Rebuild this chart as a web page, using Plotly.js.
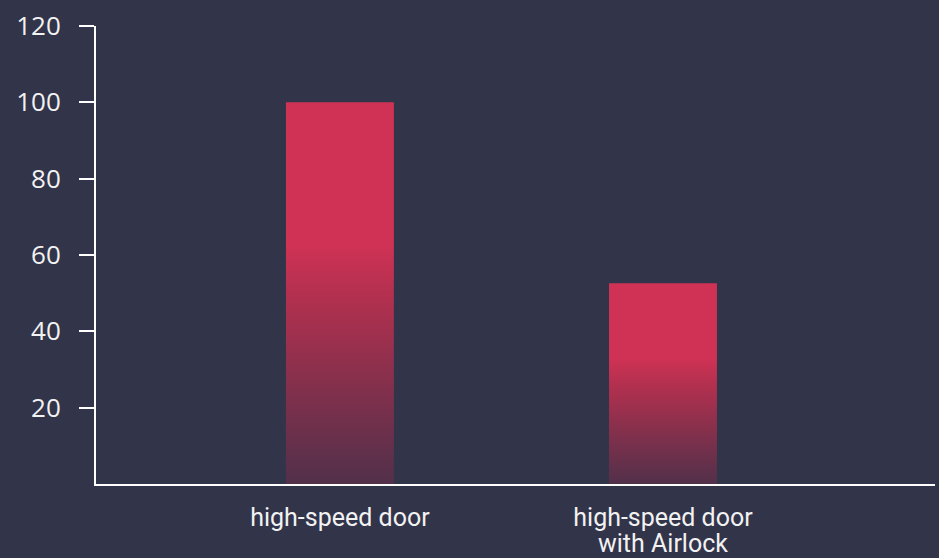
<!DOCTYPE html>
<html>
<head>
<meta charset="utf-8">
<script src="https://cdn.plot.ly/plotly-3.0.1.min.js"></script>
<style>
html,body{margin:0;padding:0;background:#32344a;}
#chart{width:939px;height:558px;}
</style>
</head>
<body>
<div id="chart"></div>
<script>
const categories = ["high-speed door", "high-speed door<br>with Airlock"];
const values = [100, 52.6];
const yTicks = [20, 40, 60, 80, 100, 120];

const trace = {
  type: "bar",
  x: categories,
  y: values,
  width: 0.334,
  marker: {color: "#d03255", line: {width: 0}},
  hoverinfo: "none"
};

const layout = {
  width: 939, height: 558,
  margin: {l: 96, r: 4, t: 26, b: 74},
  paper_bgcolor: "#32344a",
  plot_bgcolor: "#32344a",
  showlegend: false,
  font: {family: "Roboto, sans-serif", color: "#f2f2f2"},
  xaxis: {
    range: [-0.755, 1.842],
    showgrid: false, zeroline: false,
    showline: true, linecolor: "#ffffff", linewidth: 2,
    ticks: "", ticklabelstandoff: 10,
    tickfont: {size: 25, family: "Roboto, sans-serif", color: "#f2f2f2"}
  },
  yaxis: {
    range: [0, 120],
    tickvals: yTicks,
    ticktext: yTicks.map(String),
    showgrid: false, zeroline: false,
    showline: true, linecolor: "#ffffff", linewidth: 2,
    ticks: "outside", ticklen: 15, tickwidth: 2, tickcolor: "#ffffff",
    ticklabelstandoff: 13,
    tickfont: {size: 26, family: "Open Sans, sans-serif", color: "#f2f2f2"}
  }
};

Plotly.newPlot("chart", [trace], layout, {displayModeBar: false, staticPlot: true}).then(function(gd){
  const svg = gd.querySelector("svg.main-svg");
  const ns = "http://www.w3.org/2000/svg";
  let defs = svg.querySelector("defs");
  if (!defs) { defs = document.createElementNS(ns, "defs"); svg.insertBefore(defs, svg.firstChild); }
  const lg = document.createElementNS(ns, "linearGradient");
  lg.setAttribute("id", "barGrad");
  lg.setAttribute("x1", "0"); lg.setAttribute("y1", "0");
  lg.setAttribute("x2", "0"); lg.setAttribute("y2", "1");
  [["0", "#d03255"], ["0.37", "#d03255"], ["0.5", "#b4304f"], ["0.75", "#82304c"], ["1", "#52304a"]].forEach(function(s){
    const st = document.createElementNS(ns, "stop");
    st.setAttribute("offset", s[0]);
    st.setAttribute("stop-color", s[1]);
    lg.appendChild(st);
  });
  defs.appendChild(lg);
  gd.querySelectorAll(".bars .point path").forEach(function(p){
    p.style.fill = "url(#barGrad)";
  });
  // tighter line spacing for multi-line category labels
  gd.querySelectorAll(".xtick text").forEach(function(t){
    const lines = t.querySelectorAll("tspan.line");
    lines.forEach(function(ts, i){
      if (i > 0) ts.setAttribute("dy", "26px");
    });
  });
});
</script>
</body>
</html>
